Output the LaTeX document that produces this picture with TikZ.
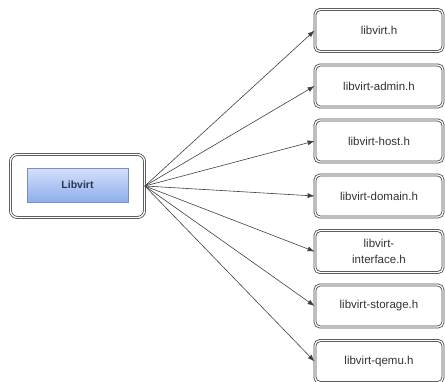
\documentclass[tikz,border=0pt]{standalone}
\usepackage{fontspec}
\setmainfont{Liberation Sans}
\usetikzlibrary{arrows.meta}
\definecolor{txt}{HTML}{333333}
\definecolor{bordergray}{HTML}{474747}
\definecolor{bluetop}{HTML}{D4E0FA}
\definecolor{bluebot}{HTML}{8EAEEC}
\definecolor{blueedge}{HTML}{7D8FB8}
\definecolor{navytxt}{HTML}{2A3550}
\tikzset{
  hbox/.style={draw=bordergray, double=white, double distance=1.3pt, line width=0.8pt,
    rounded corners=5pt, minimum width=128pt, minimum height=42pt, fill=white,
    font=\fontsize{11.5}{16}\selectfont, text=txt, align=center, inner sep=1pt},
  outerbox/.style={draw=bordergray, double=white, double distance=1.3pt, line width=0.8pt,
    rounded corners=7pt, minimum width=134pt, minimum height=63pt, fill=white},
  innerbox/.style={draw=blueedge, line width=0.5pt, top color=bluetop, bottom color=bluebot,
    minimum width=101pt, minimum height=34pt, font=\fontsize{10.5}{12}\selectfont\bfseries, text=navytxt},
  arr/.style={draw=black!75, line width=0.6pt, -{Latex[length=7pt,width=5pt]}}
}
\begin{document}
\begin{tikzpicture}[x=1pt,y=-1pt]
\useasboundingbox (0,0) rectangle (445,381);
\node[outerbox] (lvout) at (77.5,186) {};
\node[innerbox] (lv) at (77.5,185) {Libvirt};
\node[hbox] (h1) at (379,30.5) {libvirt.h};
\node[hbox] (h2) at (379,86) {libvirt-admin.h};
\node[hbox] (h3) at (379,141) {libvirt-host.h};
\node[hbox] (h4) at (379,196) {libvirt-domain.h};
\node[hbox] (h5) at (379,251.5) {libvirt-\\interface.h};
\node[hbox] (h6) at (379,306) {libvirt-storage.h};
\node[hbox] (h7) at (379,361.5) {libvirt-qemu.h};
\foreach \n in {h1,h2,h3,h4,h5,h6,h7}{
  \draw[arr] (lvout.east) -- (\n.west);
}
\end{tikzpicture}
\end{document}
